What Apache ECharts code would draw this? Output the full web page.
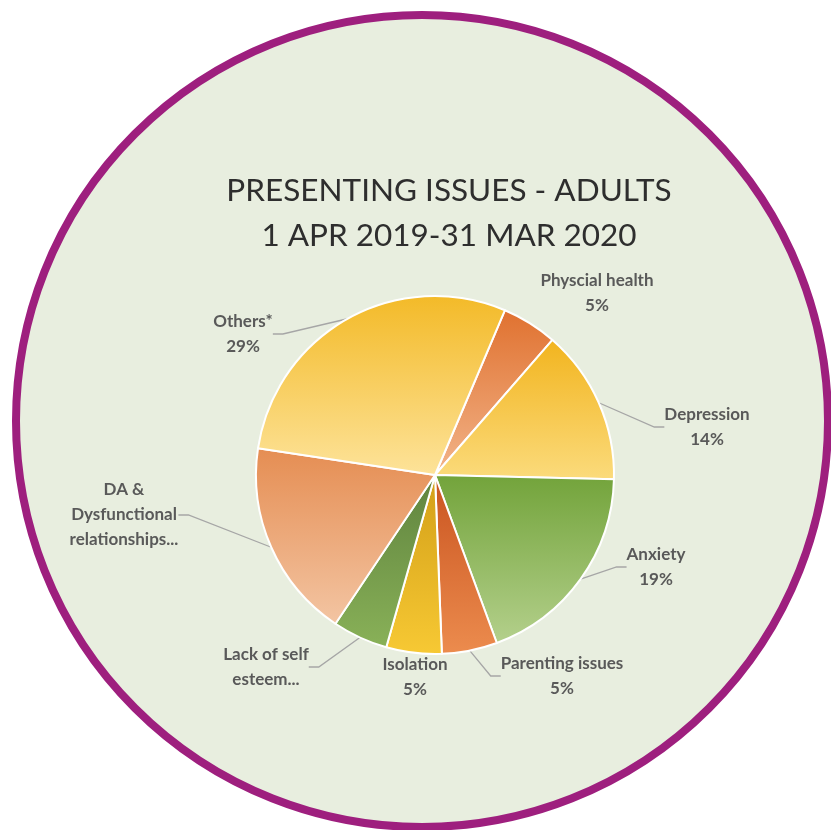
<!DOCTYPE html>
<html>
<head>
<meta charset="utf-8">
<style>
  html, body { margin: 0; padding: 0; background: #ffffff; }
  #chart { width: 831px; height: 830px; }
</style>
</head>
<body>
<div id="chart"></div>
<script src="https://cdn.jsdelivr.net/npm/echarts@6/dist/echarts.min.js"></script>
<script>
  // issues in clockwise order, starting from the top right
  const issues = ['Physcial health', 'Depression', 'Anxiety', 'Parenting issues',
    'Isolation', 'Lack of self\nesteem...', 'DA &\nDysfunctional\nrelationships...', 'Others*'];
  const shares = [5, 14, 19, 5, 5, 5, 18, 29];
  // labels that were cut short in the original show no percentage
  const showPct = [true, true, true, true, true, false, false, true];
  const hasLine = [false, true, true, true, false, true, true, true];

  // gradient top / bottom per slice
  const topColors = ['#e0712f', '#f2b41e', '#72a33a', '#c9531f', '#d29e17', '#5f833e', '#e58d52', '#f3ba28'];
  const bottomColors = ['#f2b48a', '#fbdb7c', '#b4d08c', '#ec8c4e', '#f7c934', '#89b158', '#f3c5a3', '#fde39a'];

  // where the labels sit (centre of the text block)
  const labelPos = [[597, 293], [707, 427], [656, 567], [562, 676], [415, 677], [266, 667], [124, 515], [243, 334]];

  const chart = echarts.init(document.getElementById('chart'));

  const data = issues.map((name, i) => ({
    name: name,
    value: shares[i],
    itemStyle: {
      color: new echarts.graphic.LinearGradient(0, 0, 0, 1, [
        { offset: 0, color: topColors[i] },
        { offset: 1, color: bottomColors[i] }
      ])
    },
    labelLine: { show: hasLine[i] }
  }));

  chart.setOption({
    animation: false,
    graphic: [{
      type: 'circle',
      z: -10,
      shape: { cx: 422, cy: 421, r: 406 },
      style: { fill: '#e8eedf', stroke: '#9e1f7e', lineWidth: 8 }
    }],
    title: {
      text: 'PRESENTING ISSUES - ADULTS\n1 APR 2019-31 MAR 2020',
      left: 444,
      top: 163,
      textAlign: 'center',
      textStyle: {
        fontFamily: 'Lato',
        fontWeight: 'normal',
        fontSize: 31.5,
        lineHeight: 45,
        color: '#2e2e2e'
      }
    },
    series: [{
      type: 'pie',
      center: [435, 475],
      radius: 179,
      startAngle: 67,
      clockwise: true,
      data: data,
      itemStyle: { borderColor: '#ffffff', borderWidth: 2 },
      label: {
        show: true,
        position: 'outside',
        fontFamily: 'Lato',
        fontWeight: 'bold',
        fontSize: 17,
        lineHeight: 25,
        color: '#595959',
        align: 'center',
        formatter: p => showPct[p.dataIndex] ? p.name + '\n' + p.percent.toFixed(0) + '%' : p.name
      },
      labelLine: {
        show: true,
        length: 20,
        length2: 10,
        smooth: false,
        lineStyle: { color: '#a6a6a6', width: 1.3 }
      },
      labelLayout: params => ({
        x: labelPos[params.dataIndex][0],
        y: labelPos[params.dataIndex][1],
        align: 'center',
        verticalAlign: 'middle'
      })
    }]
  });
</script>
</body>
</html>
